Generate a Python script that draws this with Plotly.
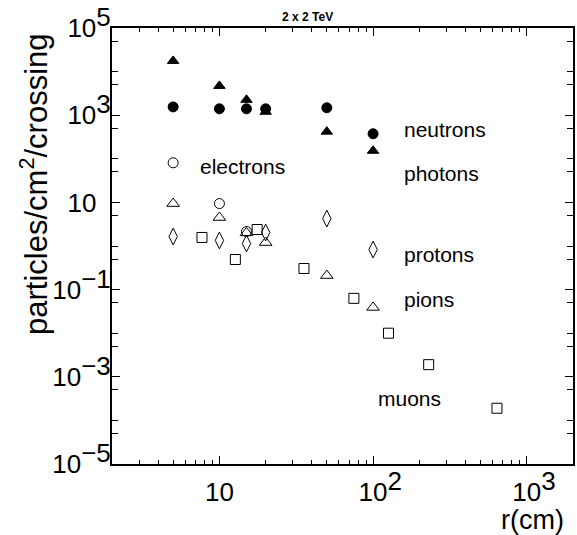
import numpy as np
import plotly.graph_objects as go

# ---- data ----
r_main = [5, 10, 15, 20, 50, 100]
neutrons = [1550, 1400, 1400, 1400, 1480, 375]
photons = [17600, 4700, 2250, 1200, 420, 153]
r_electrons = [5, 10, 15]
electrons = [81, 9.4, 2.15]
pions = [9.4, 4.5, 2.0, 1.2, 0.21, 0.039]
protons = [1.65, 1.34, 1.14, 2.04, 4.25, 0.83]
r_muons = [7.7, 12.7, 17.6, 35.5, 75, 126, 230, 640]
muons = [1.57, 0.49, 2.39, 0.305, 0.063, 0.01, 0.0019, 0.00019]

x_tick_vals = [10, 100, 1000]
x_tick_text = ["10", "10^2", "10^3"]
label_exponents = [5, 3, 1, -1, -3, -5]
even_exponents = [4, 2, 0, -2, -4]

FONT = "Liberation Sans, Arial, sans-serif"
TF = 26  # tick font size


def sup_full(s):
    return "<sup><span style='font-size:%dpx'>%s</span></sup>" % (TF, s)


def x_label(t):
    if "^" in t:
        base, e = t.split("^")
        return sup_full("\u00a0\u00a0") + base + sup_full(e)
    return t


def y_label(e):
    if e == 1:
        return "10" + sup_full("\u00a0\u00a0")
    return "10" + sup_full(str(e).replace("-", "\u2212"))


fig = go.Figure()

series = [
    ("neutrons", r_main, neutrons, "circle", 10),
    ("photons", r_main, photons, "triangle-up", 10),
    ("electrons", r_electrons, electrons, "circle-open", 10),
    ("pions", r_main, pions, "triangle-up-open", 11),
    ("protons", r_main, protons, "diamond-tall-open", 12),
    ("muons", r_muons, muons, "square-open", 10),
]
for name, xs, ys, sym, sz in series:
    fig.add_trace(go.Scatter(
        x=xs, y=ys, mode="markers", name=name,
        marker=dict(symbol=sym, size=sz, color="black",
                    line=dict(color="black", width=1)),
        showlegend=False,
    ))

minor_x = [m * 10 ** d for d in range(0, 4) for m in range(2, 10) if 2 <= m * 10 ** d <= 2000]
minor_y = sorted([5 * 10.0 ** e for e in range(-5, 5)] + [10.0 ** e for e in even_exponents])

fig.update_xaxes(
    type="log", range=[np.log10(2), np.log10(2000)],
    tickvals=x_tick_vals, ticktext=[x_label(t) for t in x_tick_text],
    ticks="inside", ticklen=8, tickwidth=1, tickcolor="black",
    showline=True, linecolor="black", linewidth=2, mirror="ticks",
    showgrid=False, zeroline=False,
    tickfont=dict(family=FONT, size=TF, color="black"),
    ticklabelstandoff=4,
    minor=dict(tickvals=minor_x, ticks="inside", ticklen=4, tickcolor="black", tickwidth=1, showgrid=False),
)
fig.update_yaxes(
    type="log", range=[-5, 5],
    tickvals=[10.0 ** e for e in label_exponents],
    ticktext=[y_label(e) for e in label_exponents],
    ticks="inside", ticklen=8, tickwidth=1, tickcolor="black",
    showline=True, linecolor="black", linewidth=2, mirror="ticks",
    showgrid=False, zeroline=False,
    tickfont=dict(family=FONT, size=TF, color="black"),
    ticklabelstandoff=-6,
    minor=dict(tickvals=minor_y, ticks="inside", ticklen=6, tickcolor="black", tickwidth=1, showgrid=False),
)

W, H = 577, 535
L, R, T, B = 112, 2, 27, 71
pw, ph = W - L - R, H - T - B


def px_to_paper(px, py):
    return (px - L) / pw, (H - B - py) / ph


labels = [
    ("neutrons", 403, 129),
    ("photons", 403, 173),
    ("electrons", 198, 166),
    ("protons", 403, 254),
    ("pions", 403, 299),
    ("muons", 377, 398),
]
annotations = []
for txt, px, py in labels:
    ax, ay = px_to_paper(px, py)
    annotations.append(dict(x=ax, y=ay, xref="paper", yref="paper", text=txt,
                            showarrow=False, xanchor="left", yanchor="middle",
                            font=dict(family=FONT, size=21, color="black")))

tx, ty = px_to_paper(33, 184)
annotations.append(dict(x=tx, y=ty, xref="paper", yref="paper",
                        text="particles/cm<sup>2</sup>/crossing", textangle=-90,
                        showarrow=False, xanchor="center", yanchor="middle",
                        font=dict(family=FONT, size=31, color="black")))
rx, ry = px_to_paper(568, 520)
annotations.append(dict(x=rx, y=ry, xref="paper", yref="paper", text="r(cm)",
                        showarrow=False, xanchor="right", yanchor="middle",
                        font=dict(family=FONT, size=27, color="black")))
hx, hy = px_to_paper(308, 16)
annotations.append(dict(x=hx, y=hy, xref="paper", yref="paper", text="<b>2 x 2 TeV</b>",
                        showarrow=False, xanchor="center", yanchor="middle",
                        font=dict(family=FONT, size=12, color="black")))

fig.update_layout(
    width=W, height=H,
    margin=dict(l=L, r=R, t=T, b=B, pad=0),
    paper_bgcolor="white", plot_bgcolor="white",
    annotations=annotations,
    font=dict(family=FONT, color="black"),
)

fig.write_html("out.html")
